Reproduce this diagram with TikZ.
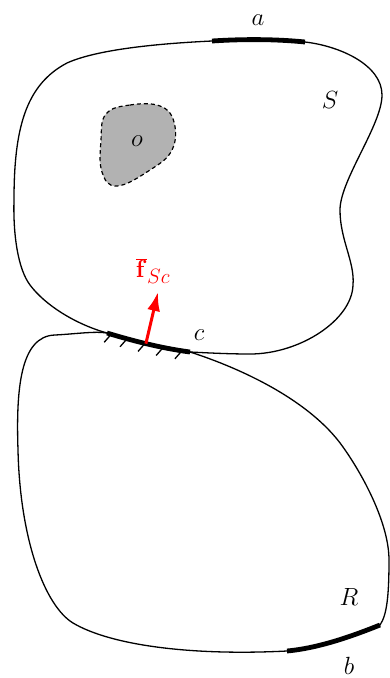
\documentclass[tikz,border=0pt]{standalone}
\usetikzlibrary{arrows.meta}
\begin{document}
\begin{tikzpicture}[x=1pt,y=-1pt,
  outline/.style={line width=1.3pt},
  thickseg/.style={line width=4.8pt},
  hatch/.style={line width=1.3pt},
  force/.style={red, line width=3pt, -{Latex[length=19pt,width=13pt]}},
  lbl/.style={font=\fontsize{28}{32}\selectfont, inner sep=0pt},
  hole/.style={fill=black!30, draw, dash pattern=on 4pt off 3pt, line width=1.2pt}]
\useasboundingbox (0,0) rectangle (390,678);
% key points
\coordinate (a1) at (212,41);
\coordinate (a2) at (305,42);
\coordinate (c1) at (107,333);
\coordinate (c2) at (190,352);
\coordinate (b1) at (287,651);
\coordinate (b2) at (380,625);
% body S
\draw[outline] (a1) .. controls (243,39) and (275,39) .. (a2)
  .. controls (340,46) and (382,65) .. (382,95)
  .. controls (382,125) and (340,180) .. (340,210)
  .. controls (340,240) and (355,262) .. (353,285)
  .. controls (352,320) and (300,354) .. (250,354)
  .. controls (230,354) and (210,353) .. (c2)
  .. controls (160,348) and (130,340) .. (c1)
  .. controls (75,324) and (45,305) .. (30,285)
  .. controls (18,269) and (13,235) .. (14,200)
  .. controls (14,130) and (25,85) .. (67,63)
  .. controls (100,48) and (170,43) .. (a1) -- cycle;
% body R
\draw[outline] (c1) .. controls (130,340) and (160,348) .. (c2)
  .. controls (240,368) and (310,400) .. (343,447)
  .. controls (365,478) and (389,525) .. (389,560)
  .. controls (389,595) and (387,615) .. (b2)
  .. controls (355,635) and (320,648) .. (b1)
  .. controls (190,656) and (110,645) .. (73,623)
  .. controls (45,606) and (20,540) .. (18,450)
  .. controls (16,390) and (20,336) .. (55,335)
  .. controls (75,334) and (95,331) .. (c1) -- cycle;
% hole o
\draw[hole] plot[smooth cycle, tension=0.7] coordinates {(106,114) (130,105) (160,106) (174,122) (172,150) (150,170) (117,186) (102,172) (101,140)};
% thick boundary pieces
\draw[thickseg] (a1) .. controls (243,39) and (275,39) .. (a2);
\draw[thickseg] (b2) .. controls (355,635) and (320,648) .. (b1);
\draw[thickseg] (c1) .. controls (130,340) and (160,348) .. (c2)
  coordinate[pos=0.06] (h1) coordinate[pos=0.27] (h2) coordinate[pos=0.49] (h3)
  coordinate[pos=0.70] (h4) coordinate[pos=0.91] (h5);
\path (c1) .. controls (130,340) and (160,348) .. (c2) coordinate[pos=0.5] (base);
% hatch marks
\foreach \h in {h1,h2,h3,h4,h5}
  \draw[hatch] (\h) -- ++(-7,8);
% force arrow
\coordinate (tip) at (158,292);
\draw[force] (base) -- (tip);
% labels
\node[lbl] (la) at (258,20) {$a$};
\node[lbl] (lS) at (330,100) {$S$};
\node[lbl] (lo) at (137,141) {$o$};
\node[lbl] (lc) at (199,335) {$c$};
\node[lbl, text=red] (lf) at (153,271) {$\overline{\mathbf{f}}_{Sc}$};
\node[lbl] (lR) at (349,597) {$R$};
\node[lbl] (lb) at (349,666) {$b$};
\end{tikzpicture}
\end{document}
